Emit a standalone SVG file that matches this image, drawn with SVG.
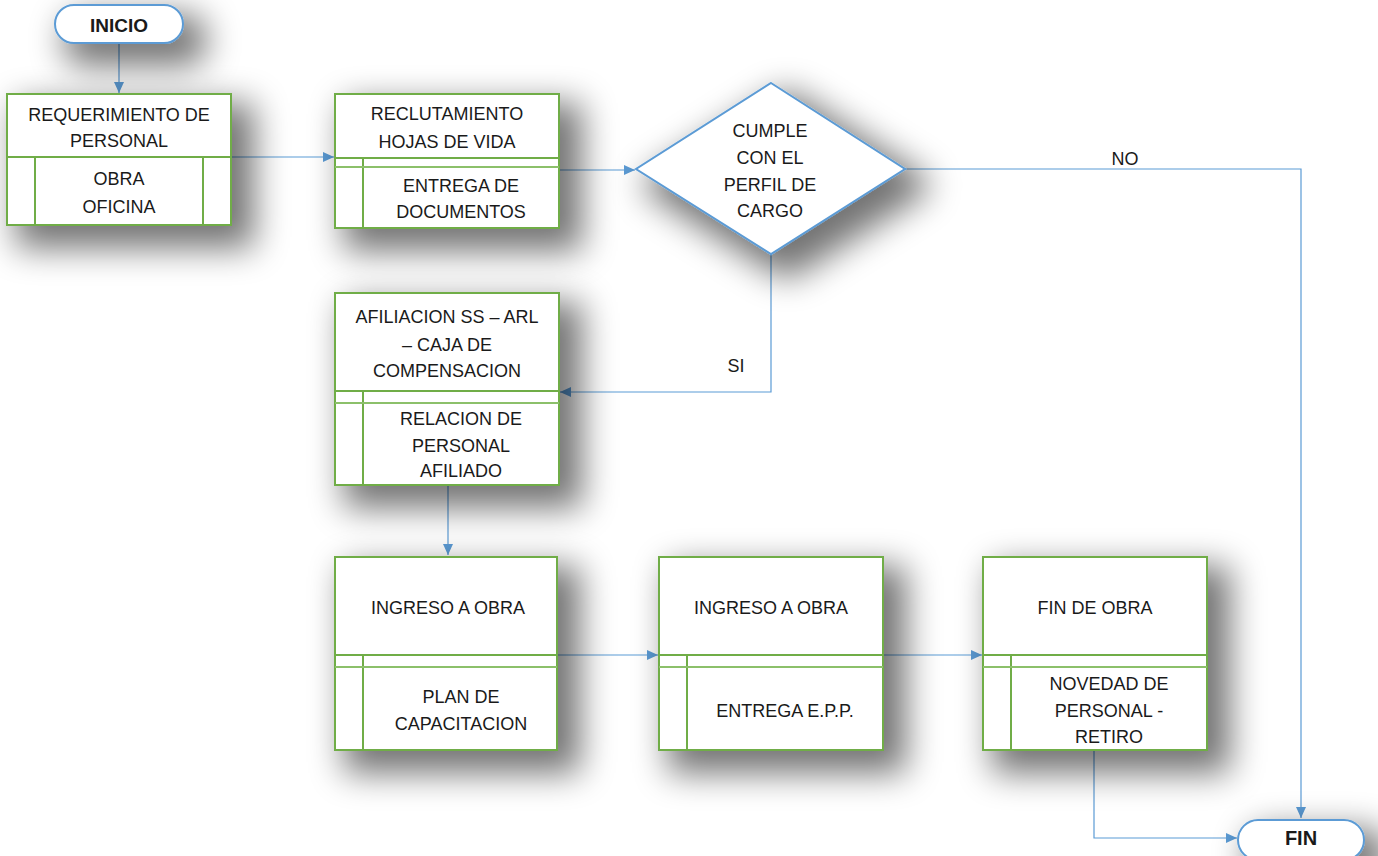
<svg xmlns="http://www.w3.org/2000/svg" width="1378" height="856" viewBox="0 0 1378 856">
  <defs>
    <filter id="shadow" filterUnits="userSpaceOnUse" x="-200" y="-200" width="1800" height="1300">
      <feMorphology in="SourceAlpha" operator="dilate" radius="6"/>
      <feGaussianBlur stdDeviation="17"/>
      <feOffset dx="16" dy="16" result="b"/>
      <feComponentTransfer><feFuncA type="linear" slope="0.55"/></feComponentTransfer>
      <feMerge><feMergeNode/><feMergeNode in="SourceGraphic"/></feMerge>
    </filter>
    <marker id="arrow" markerUnits="userSpaceOnUse" markerWidth="12" markerHeight="10" refX="11" refY="5" orient="auto">
      <path d="M0,0 L11,5 L0,10 Z" fill="#5B9BD5"/>
    </marker>
  </defs>
  <style>
    .box { fill: #ffffff; stroke: #70AD47; stroke-width: 2; }
    .div { stroke: #70AD47; stroke-width: 2; fill: none; }
    .div2 { stroke: #8CC06A; stroke-width: 2; fill: none; }
    .term { fill: #ffffff; stroke: #5B9BD5; stroke-width: 2; }
    .conn { stroke: #5B9BD5; stroke-width: 1.2; fill: none; }
    text { font-family: "Liberation Sans", Arial, sans-serif; font-size: 18px; fill: #1a1a1a; text-anchor: middle; }
    .bold { font-weight: bold; font-size: 19px; }
  </style>
  <rect width="1378" height="856" fill="#ffffff"/>

  <!-- connectors -->
  <g id="connectors">
    <path class="conn" d="M119,43 V93" marker-end="url(#arrow)"/>
    <path class="conn" d="M231,157 H334" marker-end="url(#arrow)"/>
    <path class="conn" d="M559,170 H635" marker-end="url(#arrow)"/>
    <path class="conn" d="M905,169 H1301 V818" marker-end="url(#arrow)"/>
    <path class="conn" d="M771,254 V392 H560" marker-end="url(#arrow)"/>
    <path class="conn" d="M448,485 V555" marker-end="url(#arrow)"/>
    <path class="conn" d="M557,655 H658" marker-end="url(#arrow)"/>
    <path class="conn" d="M883,655 H982" marker-end="url(#arrow)"/>
    <path class="conn" d="M1094,750 V838 H1237" marker-end="url(#arrow)"/>
    <text x="1125" y="165">NO</text>
    <text x="736" y="372">SI</text>
  </g>

  <!-- start terminal -->
  <g id="inicio">
    <rect class="term" x="55" y="5" width="128" height="38" rx="19" filter="url(#shadow)"/>
    <text class="bold" x="119" y="32">INICIO</text>
  </g>

  <!-- personnel request -->
  <g id="requerimiento">
    <rect class="box" x="7" y="94" width="224" height="131" filter="url(#shadow)"/>
    <path class="div" d="M7,157 H231 M35,157 V225 M203,157 V225"/>
    <text x="119" y="121">REQUERIMIENTO DE</text>
    <text x="119" y="147">PERSONAL</text>
    <text x="119" y="185">OBRA</text>
    <text x="119" y="213">OFICINA</text>
  </g>

  <!-- recruitment -->
  <g id="reclutamiento">
    <rect class="box" x="335" y="94" width="224" height="134" filter="url(#shadow)"/>
    <path class="div" d="M335,158 H559 M363,158 V228"/>
    <path class="div2" d="M335,167 H559"/>
    <text x="447" y="120">RECLUTAMIENTO</text>
    <text x="447" y="148">HOJAS DE VIDA</text>
    <text x="461" y="192">ENTREGA DE</text>
    <text x="461" y="218">DOCUMENTOS</text>
  </g>

  <!-- decision -->
  <g id="decision">
    <path class="term" d="M771,83 L905,169 L771,254 L636,169 Z" filter="url(#shadow)"/>
    <text x="770" y="137">CUMPLE</text>
    <text x="770" y="164">CON EL</text>
    <text x="770" y="191">PERFIL DE</text>
    <text x="770" y="217">CARGO</text>
  </g>

  <!-- affiliation -->
  <g id="afiliacion">
    <rect class="box" x="335" y="293" width="224" height="192" filter="url(#shadow)"/>
    <path class="div" d="M335,391 H559 M363,391 V485"/>
    <path class="div2" d="M335,403 H559"/>
    <text x="447" y="323">AFILIACION SS – ARL</text>
    <text x="447" y="351">– CAJA DE</text>
    <text x="447" y="377">COMPENSACION</text>
    <text x="461" y="425">RELACION DE</text>
    <text x="461" y="452">PERSONAL</text>
    <text x="461" y="477">AFILIADO</text>
  </g>

  <!-- site entry / training -->
  <g id="ingreso-capacitacion">
    <rect class="box" x="335" y="557" width="222" height="193" filter="url(#shadow)"/>
    <path class="div" d="M335,655 H557 M363,655 V750"/>
    <path class="div2" d="M335,667 H557"/>
    <text x="448" y="614">INGRESO A OBRA</text>
    <text x="461" y="703">PLAN DE</text>
    <text x="461" y="730">CAPACITACION</text>
  </g>

  <!-- site entry / PPE -->
  <g id="ingreso-epp">
    <rect class="box" x="659" y="557" width="224" height="193" filter="url(#shadow)"/>
    <path class="div" d="M659,655 H883 M687,655 V750"/>
    <path class="div2" d="M659,667 H883"/>
    <text x="771" y="614">INGRESO A OBRA</text>
    <text x="785" y="717">ENTREGA E.P.P.</text>
  </g>

  <!-- end of works -->
  <g id="fin-obra">
    <rect class="box" x="983" y="557" width="224" height="193" filter="url(#shadow)"/>
    <path class="div" d="M983,655 H1207 M1011,655 V750"/>
    <path class="div2" d="M983,667 H1207"/>
    <text x="1095" y="614">FIN DE OBRA</text>
    <text x="1109" y="690">NOVEDAD DE</text>
    <text x="1109" y="717">PERSONAL -</text>
    <text x="1109" y="743">RETIRO</text>
  </g>

  <!-- end terminal -->
  <g id="fin">
    <rect class="term" x="1238" y="820" width="126" height="40" rx="20" filter="url(#shadow)"/>
    <text class="bold" x="1301" y="845" style="font-size:20px">FIN</text>
  </g>
</svg>
